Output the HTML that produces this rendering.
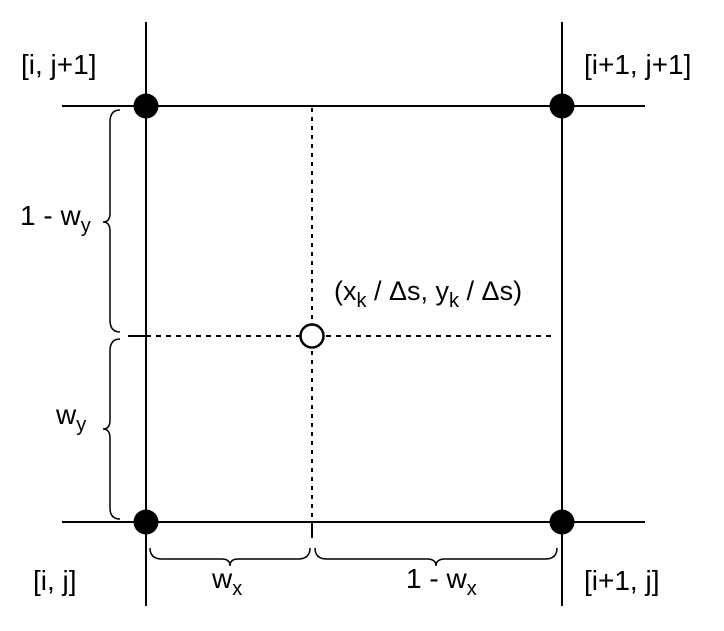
<!DOCTYPE html>
<html><head><meta charset="utf-8"><style>
html,body{margin:0;padding:0;background:#fff}
svg{display:block}
text{font-family:"Liberation Sans",Arial,sans-serif;font-size:28px;fill:#000}
.s{font-size:20px}
</style></head><body>
<svg width="724" height="631" viewBox="0 0 724 631" xmlns="http://www.w3.org/2000/svg">
<g stroke="#000" stroke-width="2" fill="none">
<line x1="146" y1="22" x2="146" y2="606"/>
<line x1="562" y1="22" x2="562" y2="606"/>
<line x1="62" y1="106" x2="645" y2="106"/>
<line x1="62" y1="522" x2="645" y2="522"/>
<line x1="312" y1="108" x2="312" y2="518" stroke-dasharray="4,5"/>
<line x1="312" y1="522" x2="312" y2="538"/>
<line x1="146" y1="336" x2="556" y2="336" stroke-dasharray="5,5"/>
<line x1="128" y1="336" x2="146" y2="336"/>
<path d="M120 110 Q110 110 110 122 L110 213 Q110 222 103 222 Q110 222 110 231 L110 320 Q110 332 120 332" stroke-width="1.5"/>
<path d="M120 339 Q110 339 110 351 L110 420 Q110 429 103 429 Q110 429 110 438 L110 508 Q110 519 120 519" stroke-width="1.5"/>
<path d="M150 548 Q150 559 162 559 L222 559 Q230 559 230 566 Q230 559 238 559 L298 559 Q310 559 310 548" stroke-width="1.5"/>
<path d="M315 548 Q315 559 327 559 L427 559 Q436 559 436 566 Q436 559 445 559 L545 559 Q557 559 557 548" stroke-width="1.5"/>
</g>
<circle cx="146" cy="106" r="12.5" fill="#000"/>
<circle cx="562" cy="106" r="12.5" fill="#000"/>
<circle cx="146" cy="522" r="12.5" fill="#000"/>
<circle cx="562" cy="522" r="12.5" fill="#000"/>
<circle cx="312" cy="336" r="11.5" fill="#fff" stroke="#000" stroke-width="2.5"/>
<text x="21" y="74">[i, j+1]</text>
<text x="584" y="74">[i+1, j+1]</text>
<text x="33" y="590">[i, j]</text>
<text x="584" y="590">[i+1, j]</text>
<text x="20" y="225">1 - w<tspan class="s" dy="7">y</tspan></text>
<text x="56" y="424">w<tspan class="s" dy="7">y</tspan></text>
<text x="212" y="588">w<tspan class="s" dy="7">x</tspan></text>
<text x="406" y="588">1 - w<tspan class="s" dy="7">x</tspan></text>
<text x="334" y="300" style="font-size:27px">(x<tspan class="s" dy="7">k</tspan><tspan dy="-7"> / Δs, y</tspan><tspan class="s" dy="7">k</tspan><tspan dy="-7"> / Δs)</tspan></text>
</svg>
</body></html>
